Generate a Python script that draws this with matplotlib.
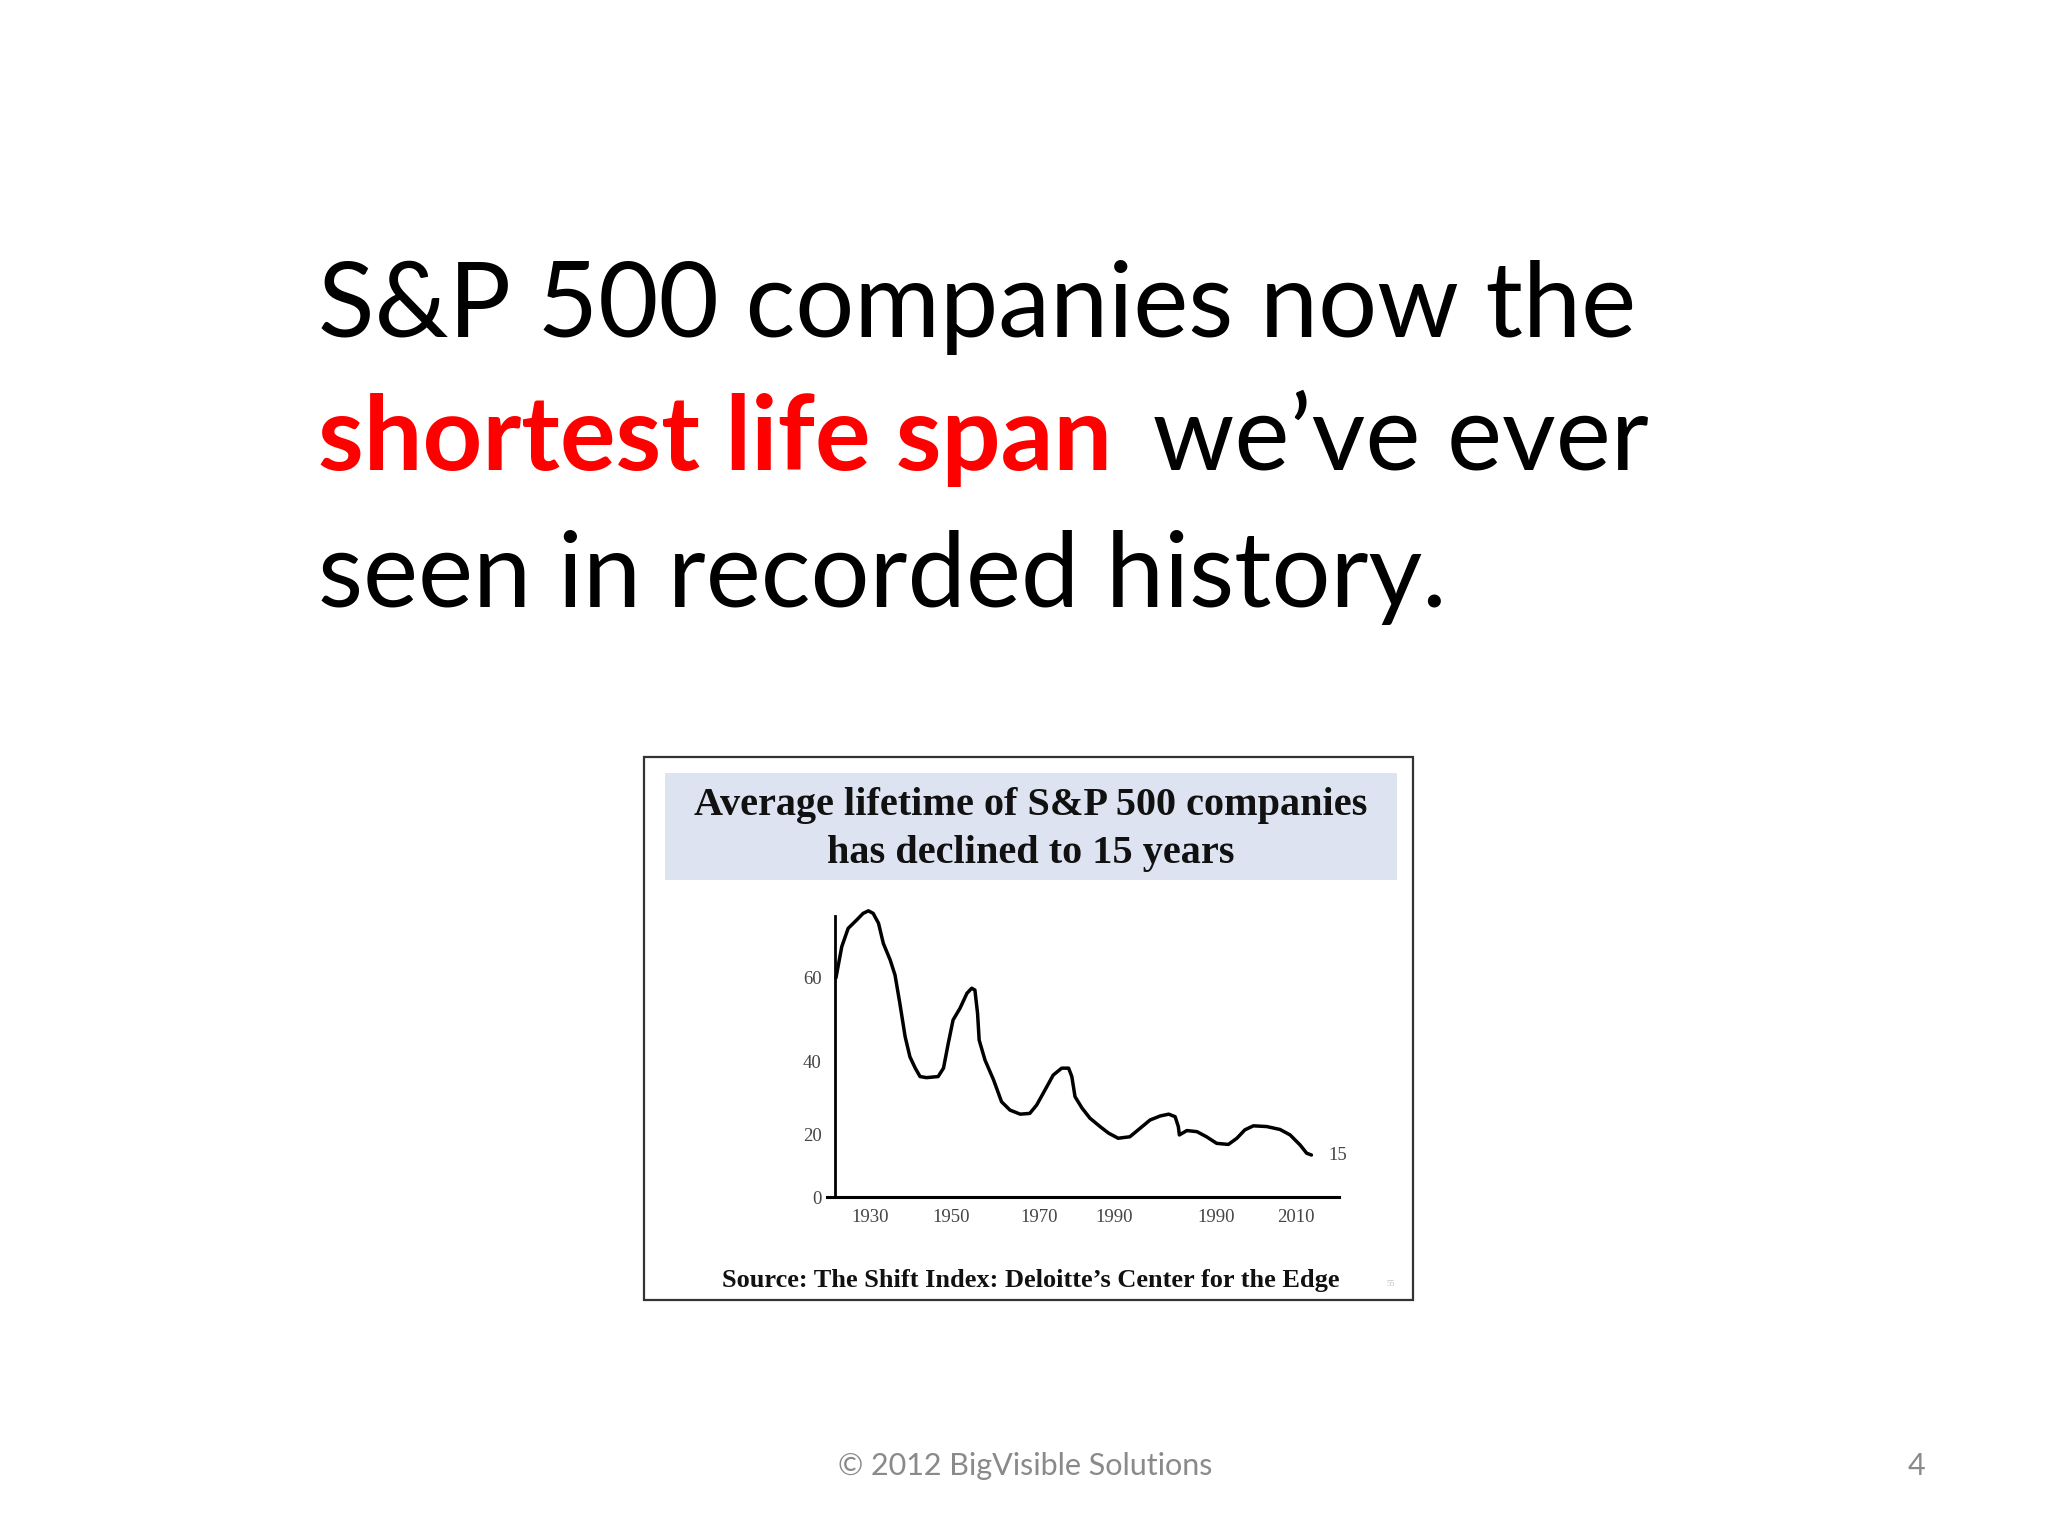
import matplotlib
matplotlib.use("Agg")
import matplotlib.pyplot as plt
from matplotlib.patches import Rectangle

W, H = 2048, 1536

# chart data (years on the chart's own x scale, lifetime in years)
years = [1923.6, 1924.7, 1925.9, 1927.5, 1928.7, 1929.7, 1930.6, 1931.6, 1932.5, 1933.8,
         1934.7, 1935.6, 1936.6, 1937.5, 1938.5, 1939.4, 1940.6, 1942.8, 1943.8, 1944.7,
         1945.6, 1946.9, 1948.2, 1949.1, 1949.7, 1950.2, 1950.5, 1951.6, 1953.2, 1954.7,
         1956.3, 1958.2, 1960.0, 1961.3, 1963.2, 1964.4, 1966.0, 1967.3, 1967.9, 1968.5,
         1969.8, 1971.3, 1973.2, 1974.8, 1976.6, 1978.8, 1980.7, 1982.6, 1984.5, 1986.1,
         1987.3, 1987.9, 1988.1, 1989.5, 1991.4, 1993.2, 1995.1, 1997.3, 1998.9, 2000.4,
         2002.0, 2004.5, 2007.0, 2008.9, 2010.8, 2012.0, 2012.9]
lifetime = [60.0, 68.6, 73.6, 75.9, 77.7, 78.4, 77.7, 75.0, 69.5, 64.9,
            60.8, 53.1, 43.9, 38.4, 35.3, 33.0, 32.7, 33.0, 35.3, 42.1,
            48.5, 51.7, 55.8, 57.2, 56.7, 50.3, 43.0, 37.5, 32.1, 26.1,
            23.8, 22.7, 22.9, 25.2, 30.2, 33.4, 35.3, 35.3, 33.0, 27.5,
            24.4, 21.6, 19.3, 17.5, 16.1, 16.5, 18.8, 21.1, 22.2, 22.7,
            22.0, 19.3, 17.0, 18.2, 17.9, 16.5, 14.7, 14.4, 16.1, 18.4,
            19.5, 19.3, 18.5, 17.0, 14.2, 12.0, 11.5]
end_label = "15"

# tick labels as printed on the (scanned) chart
xtick_pos = [1930, 1945.2, 1961.7, 1975.8, 1995.0, 2010.0]
xtick_labels = ["1930", "1950", "1970", "1990", "1990", "2010"]
ytick_pos = [0, 17, 37, 60]
ytick_labels = ["0", "20", "40", "60"]

title_lines = ["Average lifetime of S&P 500 companies", "has declined to 15 years"]
source = "Source: The Shift Index: Deloitte\u2019s Center for the Edge"


def fx(px):
    return px / W


def fy(py):
    return 1 - py / H


fig = plt.figure(figsize=(W / 100, H / 100), dpi=100)
fig.patch.set_facecolor("white")

# headline
head_font = "Lato"
hs = 75
fig.text(fx(318), fy(337), "S&P 500 companies now the", fontsize=hs,
         family=head_font, va="baseline", ha="left", color="black")
t1 = fig.text(fx(318), fy(470), "shortest life span", fontsize=hs, family=head_font,
              weight="bold", va="baseline", ha="left", color="#FF0000")
fig.canvas.draw()
bb = t1.get_window_extent(fig.canvas.get_renderer())
fig.text((bb.x1 + 14) / W, fy(470), " we\u2019ve ever", fontsize=hs, family=head_font,
         va="baseline", ha="left", color="black")
fig.text(fx(318), fy(607), "seen in recorded history.", fontsize=hs,
         family=head_font, va="baseline", ha="left", color="black")

# embedded chart frame and title band
fig.patches.append(Rectangle((fx(644), fy(1300)), fx(1413 - 644), (1300 - 757) / H,
                             transform=fig.transFigure, facecolor="white",
                             edgecolor="#333333", lw=1.6, zorder=-2))
fig.patches.append(Rectangle((fx(665), fy(880)), fx(1397 - 665), (880 - 773) / H,
                             transform=fig.transFigure, facecolor="#DDE3F0",
                             edgecolor="none", zorder=-1))
fig.text(fx(1031), fy(806), title_lines[0], fontsize=29, family="Liberation Serif",
         weight="bold", ha="center", va="center", color="#111111")
fig.text(fx(1031), fy(853), title_lines[1], fontsize=29, family="Liberation Serif",
         weight="bold", ha="center", va="center", color="#111111")
fig.text(fx(1031), fy(1281), source, fontsize=19, family="Liberation Serif",
         weight="bold", ha="center", va="center", color="#111111")
fig.text(fx(1391), fy(1284), "55", fontsize=6, family="Liberation Serif",
         ha="center", va="center", color="#BBBBBB")

# the line chart
x0, x1 = 1922.0, 2018.0
px_per_year = 5.325
left_px = 870 + (x0 - 1930) * px_per_year
right_px = 870 + (x1 - 1930) * px_per_year
y_top = 80
top_px = 1197 - y_top * 3.65
ax = fig.add_axes([fx(left_px), fy(1197), fx(right_px - left_px), (1197 - top_px) / H])
ax.set_zorder(2)
ax.set_facecolor("none")
ax.plot(years, lifetime, color="black", lw=2.5, solid_joinstyle="round",
        solid_capstyle="round")
ax.set_xlim(x0, x1)
ax.set_ylim(0, y_top)
for s in ["top", "right"]:
    ax.spines[s].set_visible(False)
ax.spines["left"].set_position(("data", 1923.5))
ax.spines["left"].set_bounds(0, 77)
ax.spines["left"].set_linewidth(2.0)
ax.spines["bottom"].set_linewidth(2.2)
ax.set_xticks(xtick_pos)
ax.set_xticklabels(xtick_labels)
ax.set_yticks(ytick_pos)
ax.set_yticklabels(ytick_labels)
ax.tick_params(length=0, labelsize=13.5, labelcolor="#444444")
ax.tick_params(axis="x", pad=9)
ax.tick_params(axis="y", pad=10)
for lab in ax.get_xticklabels() + ax.get_yticklabels():
    lab.set_family("Liberation Serif")
ax.text(years[-1] + 3.2, lifetime[-1], end_label, fontsize=13.5,
        family="Liberation Serif", color="#444444", va="center", ha="left")

# footer
fig.text(fx(1025), fy(1466), "\u00a9 2012 BigVisible Solutions", fontsize=22,
         family="Lato", color="#8A8A8A", ha="center", va="center")
fig.text(fx(1916), fy(1466), "4", fontsize=22, family="Lato", color="#8A8A8A",
         ha="center", va="center")

fig.savefig("out.png", dpi=100)
